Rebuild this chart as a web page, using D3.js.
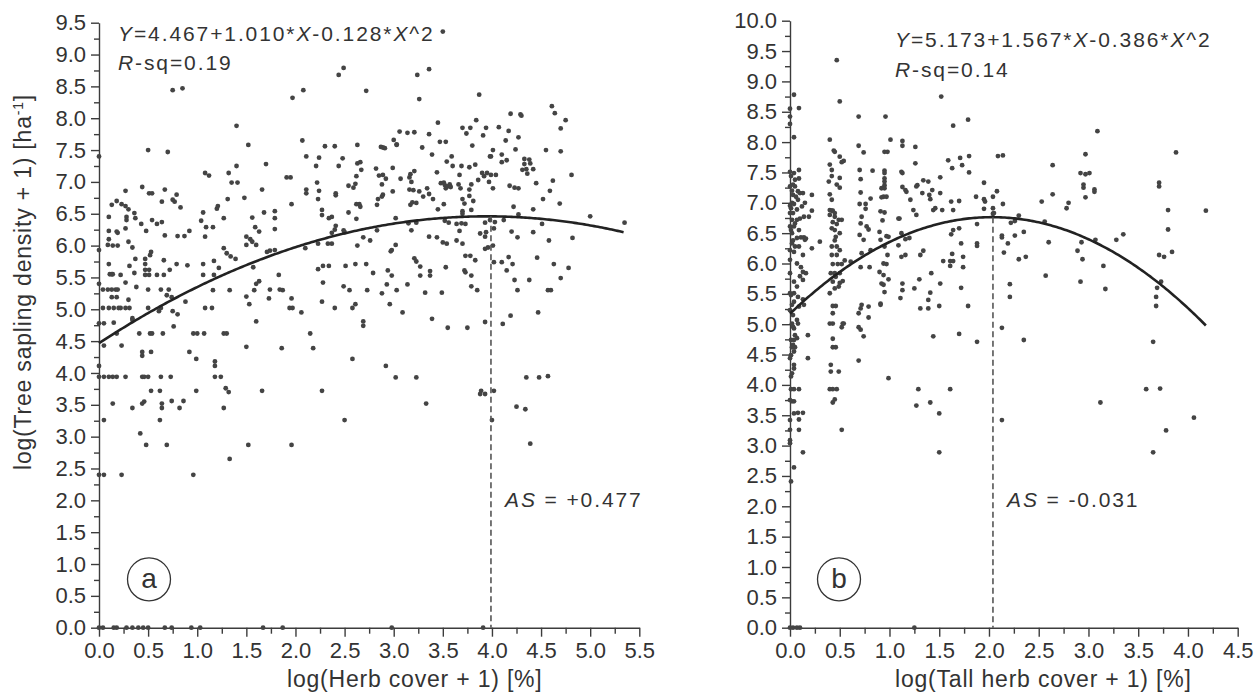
<!DOCTYPE html>
<html>
<head>
<meta charset="utf-8">
<script src="https://cdn.jsdelivr.net/npm/d3@7"></script>
<style>
  body { margin: 0; background: #fff; }
  svg { display: block; font-family: "Liberation Sans", Arial, sans-serif; }
</style>
</head>
<body>
<svg id="chart" width="1255" height="697"></svg>
<script>
// ---- data ----------------------------------------------------------------
// (a) log(herb cover + 1) vs log(tree sapling density + 1)
const herbPoints = [
  [0,7.40],[0.75,8.44],[0.85,8.47],[0.50,7.50],[0.70,7.47],[1.40,7.88],[1.52,7.58],[1.40,7.25],[1.70,7.28],[1.08,7.14],
  [1.12,7.10],[1.32,7.14],[1.35,6.99],[1.41,6.99],[1.97,8.32],[2.08,8.44],[2.07,7.65],[1.91,7.07],[1.95,7.07],[1.96,6.65],
  [2.21,7.25],[2.22,6.99],[2.11,6.88],[2.23,6.73],[2.11,6.82],[0.27,6.86],[0.44,6.92],[0.51,6.82],[0.54,6.82],[0.67,6.88],
  [0.79,6.80],[0.77,6.69],[0.75,6.72],[0.64,6.69],[0.18,6.70],[0.13,6.64],[0.23,6.65],[0.27,6.62],[0.30,6.57],[0.10,6.45],
  [0.28,6.45],[0.28,6.40],[0.36,6.51],[0.37,6.43],[0.27,6.27],[0.10,6.23],[0.18,6.22],[0.19,6.20],[0.10,6.10],[0.14,6.00],
  [0.19,6.00],[0.30,6.06],[0.34,5.97],[0.43,6.34],[0.48,6.23],[0.54,6.40],[0.59,6.34],[0.64,6.37],[0.67,6.16],[0.80,6.15],
  [0.83,6.60],[1.04,6.39],[1.06,6.52],[1.08,6.14],[1.09,6.29],[1.16,6.29],[1.20,6.58],[1.21,6.62],[1.27,6.43],[1.31,6.73],
  [1.48,6.75],[1.56,6.44],[1.59,6.29],[1.63,6.22],[1.66,6.88],[1.68,6.52],[1.50,6.14],[1.54,6.10],[1.79,6.54],[1.79,6.43],
  [1.79,6.26],[1.50,6.01],[0.87,6.15],[0.92,6.23],
  [0.09,6.01],[0,5.93],[0.10,5.71],[0.11,5.55],[0.13,5.55],[0.14,5.55],[0.22,5.54],[0.04,5.31],[0.09,5.31],[0.13,5.31],
  [0.17,5.31],[0.19,5.31],[0.13,5.19],[0.18,5.19],[0.04,5.02],[0.10,5.02],[0.15,5.02],[0.20,5.02],[0.22,5.02],[0.27,5.02],
  [0.31,5.02],[0.27,5.42],[0.30,5.15],[0.31,5.68],[0.34,4.86],[0.34,4.83],[0,4.78],[0.05,4.78],[0.15,4.79],[0.18,4.62],
  [0.05,4.43],[0.23,4.43],[0,4.11],[0,3.94],[0.05,3.94],[0.10,3.94],[0.14,3.94],[0.18,3.94],[0.27,3.94],[0.14,3.52],
  [0.05,3.26],[0,2.40],[0.05,2.40],[0.23,2.40],[0.36,5.57],[0.37,5.79],[0.38,5.35],[0.47,5.79],[0.47,5.71],[0.52,5.85],
  [0.53,5.90],[0.47,5.62],[0.47,5.54],[0.50,5.31],[0.51,5.62],[0.51,5.54],[0.59,5.54],[0.66,5.54],[0.66,5.77],[0.72,5.62],
  [0.79,5.71],[0.63,5.31],[0.71,5.31],[0.69,5.22],[0.74,5.19],[0.50,5.02],[0.61,4.97],[0.63,5.02],[0.75,4.97],[0.80,4.92],
  [0.76,4.73],[0.41,4.62],[0.52,4.62],[0.54,4.62],[0.65,4.62],[0.96,4.62],[1.00,4.62],[1.07,4.62],[1.27,4.62],[1.30,4.62],
  [0.53,4.33],[0.44,4.33],[0.44,4.27],[0.92,4.33],[0.99,4.22],[0.44,3.94],[0.46,3.94],[0.50,3.94],[0.63,3.94],[0.73,3.94],
  [1.18,3.94],[1.24,3.94],[1.18,4.18],[1.18,4.11],[1.29,3.76],[1.32,3.70],[0.53,3.72],[0.62,3.72],[0.99,3.72],[0.64,3.52],
  [0.64,3.45],[0.44,3.52],[0.46,3.55],[0.34,3.45],[0.74,3.56],[0.86,3.56],[0.82,3.45],[0.62,3.26],[0.42,3.05],[0.48,2.87],
  [0.69,2.87],[0.96,2.40],[1.33,2.65],[1.27,3.45],[1.52,2.87],[1.96,2.87],[1.50,4.41],[1.66,3.72],[1.60,4.81],[1.86,4.39],
  [2.18,4.39],[2.15,4.62],[1.50,5.20],[1.53,5.08],[1.58,5.30],[1.60,5.40],[1.63,5.44],[1.73,5.17],[1.74,5.31],[1.83,5.54],
  [1.84,5.31],[1.87,5.30],[1.96,5.17],[1.97,5.02],[1.94,5.02],[2.06,4.95],[1.57,5.66],[1.56,6.06],[1.60,6.01],[1.71,5.90],
  [1.74,5.92],[1.79,5.93],[2.10,5.96],[2.23,5.63],[1.27,5.96],[1.30,5.88],[1.34,5.83],[1.39,5.79],[1.33,5.30],[1.17,5.76],
  [1.22,5.65],[1.17,5.54],[1.06,5.71],[1.06,5.54],[1.16,5.30],[1.08,5.02],[1.15,5.02],[0.90,5.69],[0.88,5.12],[0,5.40],
  [2.23,6.03],[2.33,6.03],[2.37,6.03],[2.63,6.00],[2.98,5.93],[2.97,5.91],[3.50,6.05],[3.93,5.95],
  [2.28,5.68],[2.34,5.68],[2.51,5.68],[2.61,5.71],[2.72,5.71],[2.79,5.57],[2.94,5.61],[2.98,5.53],[3.21,5.80],[3.23,5.75],
  [3.27,5.67],[3.27,5.53],[3.37,5.60],[3.37,5.53],[3.53,5.66],[3.73,5.84],[3.78,5.84],[3.83,5.77],[3.72,5.61],[3.73,5.58],
  [3.79,5.53],[4.02,5.74],[4.10,5.74],[4.21,5.71],[4.15,5.61],[4.17,5.82],[4.46,5.81],[4.63,5.71],[4.78,5.65],
  [2.28,5.42],[2.49,5.36],[2.55,5.30],[2.73,5.30],[2.88,5.25],[2.93,5.39],[3.03,5.30],[3.14,5.39],[3.32,5.26],[3.49,5.26],
  [3.79,5.36],[3.85,5.30],[4.23,5.46],[4.26,5.30],[4.38,5.46],[4.57,5.30],[4.60,5.30],[4.70,5.49],
  [2.27,5.12],[2.40,5.02],[2.58,5.02],[2.61,5.08],[2.96,5.08],[2.69,4.81],[2.69,4.74],[3.09,4.95],[3.39,4.85],[3.55,4.71],
  [3.75,4.71],[3.93,4.80],[4.11,4.77],[4.19,4.90],[4.47,4.95],[2.58,4.22],[2.92,4.11],[3.02,3.93],[3.23,3.93],[2.27,3.72],
  [3.33,3.52],[3.89,3.72],[3.88,3.67],[3.93,3.67],[4.02,3.72],[4.00,3.26],[4.35,3.93],[4.48,3.93],[4.57,3.95],[4.25,3.47],
  [4.34,3.43],[4.39,2.89],[2.50,3.26],
  [3.50,9.36],[2.49,8.79],[2.44,8.68],[3.24,8.68],[3.36,8.77],[2.72,8.43],[3.26,8.30],[3.87,8.37],[4.61,8.19],[4.64,8.08],
  [4.75,7.97],[4.19,8.07],[4.29,8.06],[4.30,8.04],[4.70,7.84],[4.07,7.86],[4.17,7.80],[3.84,7.97],[3.70,7.85],[3.78,7.85],
  [3.45,7.93],[3.06,7.79],[3.14,7.77],[3.21,7.78],[3.36,7.75],[3.74,7.76],[3.94,7.85],[3.91,7.73],[3.00,7.66],[3.03,7.59],
  [3.47,7.63],[3.53,7.63],[4.27,7.70],[4.14,7.65],[3.80,7.57],[4.01,7.50],[3.99,7.40],[4.24,7.51],[4.55,7.50],[4.70,7.48],
  [2.30,7.56],[2.40,7.56],[2.63,7.58],[2.87,7.55],[2.89,7.54],[2.91,7.53],[3.03,7.58],[3.29,7.54],[3.39,7.43],[3.59,7.40],
  [3.54,7.32],[3.60,7.25],[3.69,7.25],[3.77,7.23],[3.83,7.27],[3.98,7.40],[4.10,7.43],[4.10,7.31],[4.15,7.34],[4.33,7.36],
  [4.38,7.35],[4.33,7.28],[4.39,7.29],[4.35,7.20],[4.31,7.19],[4.36,7.13],[4.42,7.20],[4.45,6.98],[4.81,7.11],[4.62,7.02],
  [4.59,6.86],[4.69,6.66],[4.52,6.73],[2.11,7.40],[2.24,7.38],[2.24,6.86],[2.44,7.25],[2.48,7.37],[2.41,6.82],[2.41,6.79],
  [2.63,7.29],[2.66,7.31],[2.67,7.19],[2.62,7.09],[2.61,6.97],[2.54,6.94],[2.59,6.91],[2.82,7.21],[2.85,7.10],[2.89,7.11],
  [2.92,7.05],[2.88,6.96],[2.99,7.22],[3.07,7.05],[2.99,6.85],[2.89,6.80],[2.88,6.77],[2.84,6.73],[2.83,6.64],[2.65,6.65],
  [2.66,6.61],[2.62,6.65],[2.27,6.56],[2.27,6.48],[2.37,6.45],[2.34,6.43],[2.54,6.52],[2.62,6.42],[2.41,6.31],[2.40,6.25],
  [2.37,6.20],[2.49,6.24],[2.50,6.21],[2.69,6.13],[2.76,6.08],[2.83,6.24],[3.02,6.43],[3.16,7.07],[3.21,7.17],[3.17,7.12],
  [3.18,7.00],[3.16,6.88],[3.20,6.87],[3.26,6.85],[3.34,6.90],[3.36,6.81],[3.30,6.77],[3.40,6.73],[3.17,6.64],[3.19,6.68],
  [3.23,6.67],[3.44,7.15],[3.48,6.98],[3.51,6.99],[3.52,6.95],[3.55,6.93],[3.57,6.96],[3.53,6.90],[3.58,6.92],[3.67,7.11],
  [3.66,6.96],[3.68,6.90],[3.77,6.88],[3.79,6.96],[3.77,6.78],[3.70,6.73],[3.72,6.66],[3.81,6.70],[3.45,6.57],[3.51,6.65],
  [3.70,6.54],[3.70,6.50],[3.79,6.56],[3.86,7.03],[3.90,7.14],[3.95,7.14],[3.92,7.09],[3.99,7.11],[4.04,7.11],[3.97,7.00],
  [4.01,6.90],[4.18,6.94],[4.23,6.91],[4.27,6.90],[4.22,6.61],[4.27,6.49],[4.42,6.57],[4.42,6.21],[4.51,6.34],[4.20,6.22],
  [4.26,6.13],[4.12,6.40],[4.03,6.37],[4.02,6.27],[3.93,6.36],[3.94,6.21],[3.98,6.40],[3.88,6.19],[3.93,6.14],[3.64,6.34],
  [3.69,6.35],[3.73,6.34],[3.67,6.23],[3.52,6.39],[3.56,6.36],[3.54,6.03],[3.64,6.08],[3.70,6.03],[3.44,6.13],[3.36,6.14],
  [3.23,6.36],[3.18,6.24],[3.15,6.35],[4.58,6.08],[4.82,6.12],[5.00,6.46],[5.35,6.36],[3.02,6.01],[3.96,5.97],[4.01,6.00],
  [0,0],[0.04,0],[0.15,0],[0.18,0],[0.28,0],[0.34,0],[0.40,0],[0.45,0],[0.50,0],[0.67,0],
  [0.74,0],[0.94,0],[1.03,0],[1.67,0],[1.87,0],[2.98,0],[3.91,0]
];

// (b) log(tall herb cover + 1) vs log(tree sapling density + 1)
const tallHerbPoints = [
  [0.47,9.35],[0.50,8.67],[0.04,8.78],[0.09,8.56],[0,8.55],[0,8.42],[0.04,8.08],[0,8.30],[0.69,8.42],[0.96,8.42],
  [1.01,8.04],[1.13,8.02],[1.13,7.94],[1.26,7.92],[1.52,8.75],[1.64,8.27],[0.40,8.04],[0.44,7.86],[0.45,7.84],[0.50,7.76],
  [0.52,7.67],[0.54,7.69],[0.40,7.63],[0.42,7.54],[0.39,7.35],[0.42,7.44],[0.50,7.41],[0.50,7.25],[0.47,7.30],
  [0.40,7.14],[0.42,7.05],[0.40,6.88],[0.42,6.87],[0.43,6.87],[0.40,6.80],[0.45,6.83],[0.45,6.77],[0.43,6.68],[0.47,6.65],
  [0.42,6.58],[0.45,6.55],[0.49,6.72],[0.52,6.72],[0.50,6.50],[0.46,6.44],[0.45,6.38],[0.42,6.28],
  [0.69,7.94],[0.74,7.83],[0.70,7.54],[0.83,7.53],[0.71,7.39],[0.71,7.17],[0.76,6.98],[0.76,6.90],[0.70,6.98],[0.72,6.77],
  [0.81,7.07],[0.71,6.66],[0.77,6.61],[0.79,6.56],[0.70,6.47],[0.74,6.39],
  [0.95,7.84],[0.98,7.84],[0.95,7.53],[0.95,7.49],[0.95,7.40],[0.95,7.35],[0.95,7.29],[0.95,7.24],[0.94,7.10],[0.97,7.10],
  [0.92,7.09],[0.92,7.24],[0.91,6.86],[0.95,6.84],[0.93,6.71],[0.90,6.52],[0.91,6.39],[0.97,6.45],[0.99,6.44],
  [1.12,7.51],[1.13,7.49],[1.13,7.26],[1.16,7.21],[1.17,7.18],[1.21,7.05],[1.24,6.88],[1.27,6.80],[1.09,6.74],[1.10,6.74],
  [1.12,6.50],[1.16,6.40],[1.20,6.42],[1.09,6.30],[1.26,7.65],[1.28,7.29],[1.27,7.27],[1.34,7.37],[1.33,7.16],[1.39,7.35],
  [1.40,7.13],[1.43,7.21],[1.41,7.06],[1.44,6.88],[1.46,6.91],[1.51,7.42],[1.53,6.88],[1.62,7.02],[1.64,6.88],[1.63,7.57],
  [1.59,7.70],
  [0,7.51],[0.04,7.49],[0.05,7.38],[0.09,7.54],[0.09,7.40],[0,7.27],[0.05,7.27],[0.08,7.19],[0.10,7.16],[0.08,7.05],
  [0.13,7.16],[0.03,7.13],[0.15,7.00],[0.02,7.00],[0.01,6.91],[0.07,6.89],[0.12,6.94],[0,6.83],[0.03,6.83],[0.02,6.72],
  [0.07,6.72],[0.10,6.74],[0.14,6.77],[0,6.61],[0.04,6.61],[0.09,6.55],[0.02,6.50],[0.07,6.42],[0.11,6.43],[0.14,6.43],
  [0.02,6.33],[0.05,6.28],[0.09,6.28],[0.22,7.13],[0.22,6.87],[0.19,6.77],[0.30,6.36],[0.22,6.25],[0.16,6.41],[0.01,7.44],
  [0.03,7.30],[0,6.95],[0.05,6.66],[0.01,6.55],[0.03,6.38],[0.06,7.10],[0.02,7.20],[0.04,6.98],
  [1.79,8.37],[3.09,8.18],[3.88,7.83],[2.97,7.80],[2.92,7.49],[2.97,7.47],[3.01,7.49],[2.95,7.30],[2.95,7.25],[3.06,7.22],
  [3.06,7.18],[2.97,7.09],[2.64,7.14],[2.64,7.62],[2.53,7.02],[2.78,6.91],[2.80,7.00],[2.56,6.69],[3.71,7.33],[3.71,7.27],
  [3.80,6.88],[4.18,6.87],[3.80,6.56],[3.35,6.48],[3.28,6.39],[3.07,6.39],[2.93,6.35],[2.60,6.35],[1.71,7.74],[1.80,7.77],
  [1.73,7.62],[1.80,7.50],[2.09,7.77],[2.14,7.78],[1.95,7.33],[2.08,7.19],[1.87,7.10],[1.95,7.06],[2.04,7.10],[1.96,7.02],
  [1.95,6.90],[2.04,6.91],[2.14,6.98],[2.04,6.82],[2.05,6.83],[1.70,7.03],[1.51,7.16],[2.30,6.79],[2.22,6.67],[2.26,6.70],
  [1.88,6.65],[1.64,6.55],[1.70,6.58],[1.62,6.48],[2.13,6.46],[2.13,6.43],[2.35,6.52],[2.26,6.46],[2.19,6.33],
  [0,6.22],[0.04,6.19],[0.15,6.39],[0.13,6.14],[0.07,6.00],[0.11,5.94],[0.13,5.86],[0.10,5.79],[0.13,5.73],[0.04,5.70],
  [0.07,5.62],[0.04,5.51],[0.01,5.48],[0.08,5.45],[0.13,5.41],[0.04,5.37],[0.02,5.32],[0.09,5.29],[0.14,5.32],[0,5.23],
  [0.03,5.15],[0.07,5.07],[0.08,5.01],[0.02,5.01],[0.04,4.93],[0.05,4.82],[0.07,4.77],[0.01,4.74],[0.03,4.66],[0.05,4.62],
  [0.02,4.62],[0.04,4.55],[0.01,4.49],[0.04,4.33],[0.04,4.27],[0.02,4.19],[0.01,4.14],[0.04,3.93],[0.01,3.93],[0.09,3.93],
  [0.04,3.73],[0.02,3.73],[0.04,3.53],[0.08,3.54],[0.13,3.54],[0.09,3.43],[0.09,3.26],[0.13,2.89],[0.04,2.64],[0.01,2.41],
  [0,4.44],[0,3.42],[0.18,4.82],[0.18,4.44],[0.16,5.84],[0,3.09],[0,3.04],[0,5.51],[0,5.84],[0,6.06],
  [0.03,4.96],[0.04,4.74],[0,3.75],[0,3.26],
  [0.47,6.28],[0.50,6.22],[0.42,6.14],[0.47,6.14],[0.43,5.99],[0.48,5.99],[0.52,5.99],[0.41,5.84],[0.45,5.84],[0.50,5.84],
  [0.46,5.78],[0.43,5.70],[0.50,5.68],[0.53,5.71],[0.49,5.62],[0.45,5.59],[0.40,5.51],[0.43,5.30],[0.46,5.30],[0.43,5.18],
  [0.40,5.01],[0.43,5.01],[0.53,5.01],[0.54,5.01],[0.52,4.95],[0.43,4.76],[0.43,4.62],[0.46,4.62],[0.41,4.33],[0.41,4.22],
  [0.49,4.22],[0.40,3.93],[0.43,3.93],[0.47,3.93],[0.45,3.76],[0.43,3.71],[0.52,3.26],[0.55,6.05],[0.61,6.03],
  [0.72,6.17],[0.81,6.22],[0.71,5.94],[0.80,5.94],[0.69,5.18],[0.71,5.26],[0.72,5.32],[0.79,5.29],[0.79,5.11],[0.69,4.95],
  [0.71,4.91],[0.74,4.80],[0.69,4.40],[0.95,6.28],[0.98,6.14],[0.94,6.00],[0.97,5.99],[0.90,5.86],[0.94,5.81],[0.92,5.67],
  [0.94,5.65],[0.95,5.53],[0.91,5.34],[0.91,5.32],[0.99,4.11],[0.99,5.74],
  [1.12,6.11],[1.16,6.14],[1.13,5.67],[1.13,5.56],[1.11,5.43],[1.25,5.59],[1.30,5.74],[1.31,5.26],[1.39,5.26],[1.34,6.21],
  [1.31,6.14],[1.42,5.84],[1.39,5.40],[1.41,5.52],[1.44,4.80],[1.50,5.30],[1.51,5.67],[1.29,3.93],[1.27,3.66],[1.41,3.71],
  [1.50,3.53],[1.50,2.89],[1.70,4.84],
  [1.72,6.33],[1.88,6.33],[1.88,6.29],[2.15,6.18],[1.63,6.16],[1.74,6.11],[1.54,6.04],[1.61,6.04],[1.64,6.04],[1.61,5.96],
  [1.74,5.94],[2.30,6.07],[2.37,6.11],[2.89,6.21],[2.94,6.07],[3.15,5.96],[3.71,6.14],[3.76,6.11],[3.84,6.19],[2.57,5.80],
  [2.92,5.70],[3.17,5.58],[3.73,5.70],[3.69,5.60],[3.68,5.45],[3.68,5.30],[1.72,5.60],[2.21,5.66],[2.21,5.45],[1.79,5.30],
  [1.88,4.71],[2.13,4.94],[2.35,4.74],[3.65,4.71],[1.61,3.93],[3.58,3.93],[3.72,3.94],[3.12,3.71],[2.13,3.42],[4.06,3.46],
  [3.78,3.25],[3.65,2.89],
  [0,0],[0.03,0],[0.07,0],[0.10,0],[1.25,0]
];

// quadratic fits Y = b0 + b1*X + b2*X^2
const fitHerb = [4.467, 1.010, -0.128];
const fitTallHerb = [5.173, 1.567, -0.386];
const rSquared = [0.19, 0.14];
const asValues = ["+0.477", "-0.031"];
// x extent of each fitted curve and position of its maximum
const curveExtent = [[0, 5.35], [0, 4.18]];
const peakX = [3.99, 2.04];
// axis extents and tick step
const xDomains = [[0, 5.5], [0, 4.5]];
const yDomains = [[0, 9.5], [0, 10]];
const tickStep = 0.5;
const panelLetters = ["a", "b"];
const xTitles = ["log(Herb cover + 1) [%]", "log(Tall herb cover + 1) [%]"];

// ---- drawing -------------------------------------------------------------
const svg = d3.select("#chart");
const INK = "#333";
const fmt = d3.format(".1f");

const layouts = [
  { x0: 99, x1: 639.3, yBot: 627.7, yTop: 22.7, eqX: 118, eqY: 41, rsqY: 70, asX: 505, asY: 507,
    circle: [149, 579.3], titleX: 287 },
  { x0: 790, x1: 1237.7, yBot: 627.7, yTop: 20.7, eqX: 895, eqY: 47, rsqY: 77, asX: 1007, asY: 507,
    circle: [839, 579.3], titleX: 895 }
];
const allPoints = [herbPoints, tallHerbPoints];
const fits = [fitHerb, fitTallHerb];

layouts.forEach((L, i) => {
  const x = d3.scaleLinear().domain(xDomains[i]).range([L.x0, L.x1]);
  const y = d3.scaleLinear().domain(yDomains[i]).range([L.yBot, L.yTop]);
  const g = svg.append("g");

  const major = (d) => d3.range(d[0], d[1] + 1e-9, tickStep);
  const minor = (d) => d3.range(d[0] + tickStep / 2, d[1], tickStep);

  // axes: major ticks with labels, then short unlabelled minor ticks
  g.append("g").attr("transform", `translate(0,${L.yBot})`)
    .call(d3.axisBottom(x).tickValues(major(xDomains[i])).tickFormat(fmt)
      .tickSize(9).tickSizeOuter(0).tickPadding(6));
  g.append("g").attr("transform", `translate(0,${L.yBot})`)
    .call(d3.axisBottom(x).tickValues(minor(xDomains[i])).tickFormat("").tickSize(6))
    .select(".domain").remove();
  g.append("g").attr("transform", `translate(${L.x0},0)`)
    .call(d3.axisLeft(y).tickValues(major(yDomains[i])).tickFormat(fmt)
      .tickSize(8).tickSizeOuter(0).tickPadding(5));
  g.append("g").attr("transform", `translate(${L.x0},0)`)
    .call(d3.axisLeft(y).tickValues(minor(yDomains[i])).tickFormat("").tickSize(5))
    .select(".domain").remove();

  g.selectAll(".domain, .tick line").attr("stroke", "#3c3c3c").attr("stroke-width", 1.4);
  g.selectAll(".tick text").attr("fill", INK).style("font-size", "22px")
    .style("font-family", '"Liberation Sans", Arial, sans-serif');

  // scatter
  g.append("g").selectAll("circle").data(allPoints[i]).join("circle")
    .attr("cx", d => x(d[0])).attr("cy", d => y(d[1]))
    .attr("r", 2.4).attr("fill", "#444");

  // fitted quadratic
  const c = fits[i];
  const f = (v) => c[0] + c[1] * v + c[2] * v * v;
  const xs = d3.range(curveExtent[i][0], curveExtent[i][1] + 1e-9, 0.02);
  g.append("path").datum(xs)
    .attr("d", d3.line().x(v => x(v)).y(v => y(f(v))))
    .attr("fill", "none").attr("stroke", "#222").attr("stroke-width", 2.6);

  // dashed drop line from the curve maximum
  g.append("line")
    .attr("x1", x(peakX[i])).attr("x2", x(peakX[i]))
    .attr("y1", y(f(peakX[i]))).attr("y2", y(0))
    .attr("stroke", "#555").attr("stroke-width", 1.6).attr("stroke-dasharray", "6,3.5");

  // equation and R-squared
  const eq = g.append("text").attr("x", L.eqX).attr("y", L.eqY)
    .attr("fill", INK).style("font-size", "21px").style("letter-spacing", "1.9px");
  const parts = [
    ["Y", true], [`=${c[0].toFixed(3)}+${c[1].toFixed(3)}*`, false], ["X", true],
    [`-${Math.abs(c[2]).toFixed(3)}*`, false], ["X", true], ["^2", false]
  ];
  parts.forEach(([t, it]) => eq.append("tspan").text(t).style("font-style", it ? "italic" : "normal"));

  const rs = g.append("text").attr("x", L.eqX).attr("y", L.rsqY)
    .attr("fill", INK).style("font-size", "21px").style("letter-spacing", "1.9px");
  rs.append("tspan").text("R").style("font-style", "italic");
  rs.append("tspan").text(`-sq=${rSquared[i].toFixed(2)}`);

  // asymmetry label
  const as = g.append("text").attr("x", L.asX).attr("y", L.asY)
    .attr("fill", INK).style("font-size", "21px").style("letter-spacing", "1.9px");
  as.append("tspan").text("AS").style("font-style", "italic");
  as.append("tspan").text(` = ${asValues[i]}`);

  // panel letter
  g.append("circle").attr("cx", L.circle[0]).attr("cy", L.circle[1]).attr("r", 21.5)
    .attr("fill", "none").attr("stroke", "#333").attr("stroke-width", 1.3);
  g.append("text").attr("x", L.circle[0]).attr("y", L.circle[1] + 9)
    .attr("text-anchor", "middle").attr("fill", INK).style("font-size", "28px")
    .text(panelLetters[i]);

  // x-axis title
  g.append("text").attr("x", L.titleX).attr("y", 687)
    .attr("fill", INK).style("font-size", "23px").style("letter-spacing", "0.8px")
    .text(xTitles[i]);
});

// shared y-axis title
const yt = svg.append("text")
  .attr("transform", "translate(31,282) rotate(-90)")
  .attr("text-anchor", "middle").attr("fill", INK)
  .style("font-size", "23px").style("letter-spacing", "0.8px");
yt.append("tspan").text("log(Tree sapling density + 1) [ha");
yt.append("tspan").text("-1").attr("dy", -8).style("font-size", "14px");
yt.append("tspan").text("]").attr("dy", 8);
</script>
</body>
</html>
